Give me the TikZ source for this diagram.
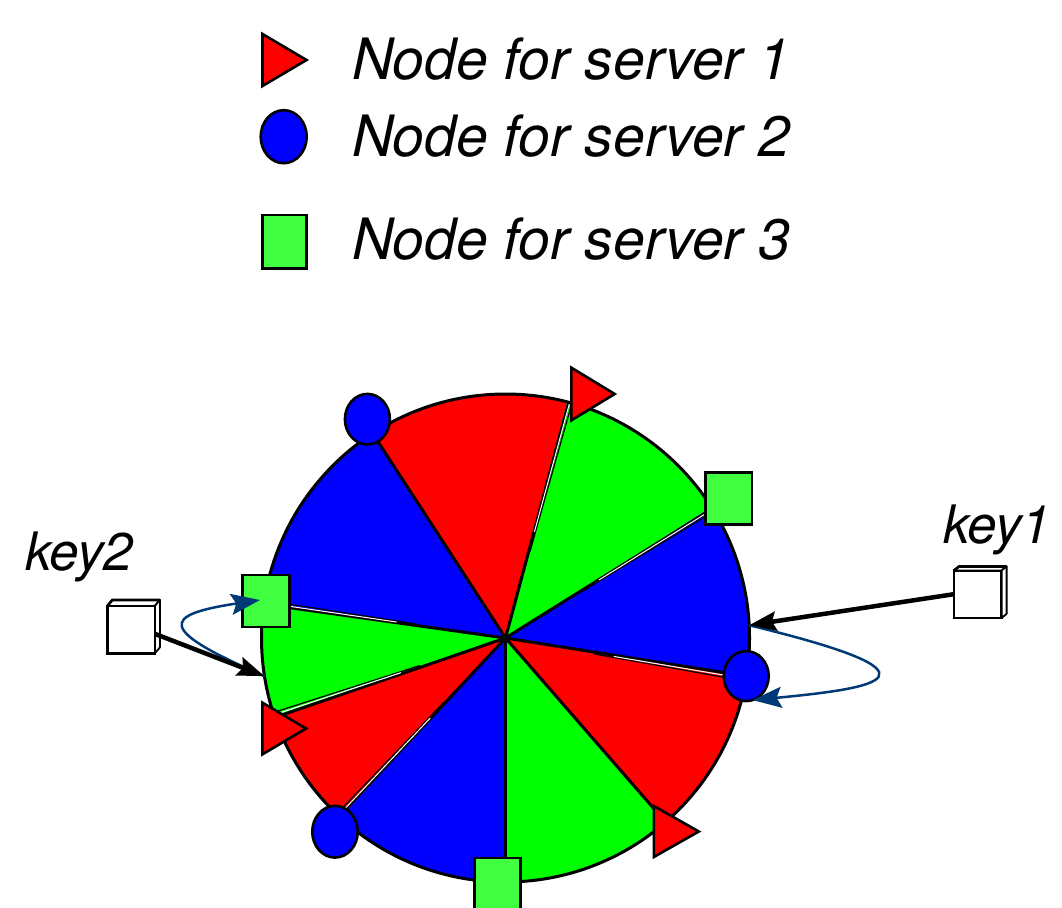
\documentclass[tikz,border=0pt]{standalone}
\usepackage{fontspec}
\setmainfont{TeX Gyre Heros}
\usetikzlibrary{shapes.geometric,arrows.meta,calc}
\definecolor{sred}{RGB}{255,0,0}
\definecolor{sblue}{RGB}{0,0,255}
\definecolor{sgreen}{RGB}{0,255,0}
\definecolor{mgreen}{RGB}{64,255,64}
\definecolor{navy}{RGB}{0,58,118}
\begin{document}
\begin{tikzpicture}[x=1pt,y=1pt,
  tribox/.style={inner sep=0pt, outer sep=0pt, minimum width=44pt, minimum height=52pt},
  trifill/.style={draw=black, line width=2.6pt, fill=sred, line join=miter},
  ell/.style={ellipse, draw=black, line width=2.6pt, fill=sblue, inner sep=0pt, outer sep=0pt, minimum width=45pt, minimum height=51pt},
  sq/.style={rectangle, draw=black, line width=2.6pt, fill=mgreen, inner sep=0pt, outer sep=0pt, minimum width=46pt, minimum height=52pt},
  lbl/.style={anchor=base west, inner sep=0pt, font=\fontsize{57pt}{60pt}\selectfont\itshape},
  keylbl/.style={anchor=base west, inner sep=0pt, font=\fontsize{53pt}{56pt}\selectfont\itshape},
  keybox/.style={rectangle, draw=black, line width=2.7pt, fill=white, inner sep=0pt, outer sep=0pt, minimum width=47.5pt, minimum height=47.5pt},
  keyside/.style={draw=black, line width=1.8pt, fill=white, line join=round},
  spoke/.style={draw=black, line width=3pt},
  rim/.style={draw=black, line width=3pt},
  hit/.style={draw=black, line width=4.5pt, -{Stealth[length=27pt,width=19pt,inset=4pt]}},
  move/.style={draw=navy, line width=2.5pt, -{Stealth[length=29pt,width=21pt,inset=5pt]}},
]
\useasboundingbox (0,0) rectangle (1062,-907);

% ---------- legend ----------
\node[tribox] (lt) at (284.5,-60) {};
\draw[trifill] (lt.north west) -- (lt.east) -- (lt.south west) -- cycle;
\node[ell, minimum width=46pt, minimum height=53pt] (le) at (283.7,-136.7) {};
\node[sq, minimum width=44.4pt, minimum height=53.3pt] (ls) at (284.5,-241.7) {};
\node[lbl] (lt1) at (352,-79.3) {Node for server 1};
\node[lbl] (lt2) at (352,-156) {Node for server 2};
\node[lbl] (lt3) at (352,-259.3) {Node for server 3};

% ---------- ring ----------
\coordinate (C) at (505.5,-638);
\node[circle, minimum size=488pt, inner sep=0pt, outer sep=0pt] (ring) at (C) {};
\foreach \a/\b/\c in {-9/32.5/sblue, 32.5/75.4/sgreen, 75.4/123/sred, 123/172.3/sblue,
                      172.3/199/sgreen, 199/227.4/sred, 227.4/270/sblue, 270/311.2/sgreen, 311.2/351/sred}
  \fill[\c] (C) -- ++(\a:244) arc[start angle=\a, end angle=\b, radius=244] -- cycle;
\foreach \a in {-9,32.5,75.4,123,172.3,199,227.4,270,311.2}
  \draw[spoke] (ring.center) -- (ring.\a);
\foreach \a in {-9,32.5,75.4,172.3,199,227.4} {
  \draw[black, line width=1.2pt] ($(C)+({\a-1.2}:90)$) -- ($(C)+({\a-1.2}:243)$);
  \draw[white, line width=1pt] ($(C)+({\a-0.65}:110)$) -- ($(C)+({\a-0.65}:243)$);
}
\draw[rim] (ring.center) circle[radius=244];

% ---------- nodes on the ring ----------
\node[ell, minimum width=45pt, minimum height=50.6pt] (e1) at (367.4,-419.2) {};
\node[ell, minimum width=45pt, minimum height=50pt] (e2) at (746.2,-676.1) {};
\node[ell, minimum width=45.5pt, minimum height=51.7pt] (e3) at (335,-831.7) {};

\node[tribox, minimum width=43.4pt, minimum height=52.7pt] (t2) at (593,-394) {};
\draw[trifill] (t2.north west) -- (t2.east) -- (t2.south west) -- cycle;
\node[tribox, minimum width=45pt, minimum height=51pt] (t3) at (676.3,-831.5) {};
\draw[trifill] (t3.north west) -- (t3.east) -- (t3.south west) -- cycle;
\node[tribox, minimum width=43.7pt, minimum height=51.7pt] (t4) at (284.25,-728.5) {};
\draw[trifill] (t4.north west) -- (t4.east) -- (t4.south west) -- cycle;

\node[sq, minimum width=46.5pt, minimum height=52.3pt] (s1) at (728.85,-498.45) {};
\node[sq, minimum width=46.4pt, minimum height=51.7pt] (s2) at (497.4,-884) {};
\node[sq, minimum width=46.5pt, minimum height=51.7pt] (s3) at (266,-601) {};

% ---------- keys ----------
\node[keylbl] (key1) at (943,-543.3) {key1};
\node[keylbl] (key2) at (25,-570.7) {key2};

\node[keybox] (k1) at (977.85,-594.15) {};
\draw[keyside] (k1.north west) -- ++(5,4) -- ($(k1.north east)+(5,4)$) -- (k1.north east) -- cycle;
\draw[keyside] (k1.north east) -- ++(5,4) -- ($(k1.south east)+(5,4)$) -- (k1.south east) -- cycle;
\draw[black, line width=2.7pt] (k1.north west) -- ++(5,4) -- ($(k1.north east)+(5,4)$);

\node[keybox] (k2) at (131.15,-629.65) {};
\draw[keyside] (k2.north west) -- ++(5,6) -- ($(k2.north east)+(5,6)$) -- (k2.north east) -- cycle;
\draw[keyside] (k2.north east) -- ++(5,6) -- ($(k2.south east)+(5,6)$) -- (k2.south east) -- cycle;
\draw[black, line width=2.7pt] (k2.north west) -- ++(5,6) -- ($(k2.north east)+(5,6)$);

% ---------- movement curves ----------
\coordinate (s3tip) at ($(s3.center)+(-6,1)$);
\draw[move] (ring.3) .. controls (955,-675) and (880,-688) .. (e2.-75);
\draw[move] (ring.189) .. controls (158,-630) and (160,-615) .. (s3tip);

% ---------- key arrows ----------
\draw[hit] (k1.west) -- (ring.3);
\draw[hit] (k2.-10) -- (ring.189);
\end{tikzpicture}
\end{document}
